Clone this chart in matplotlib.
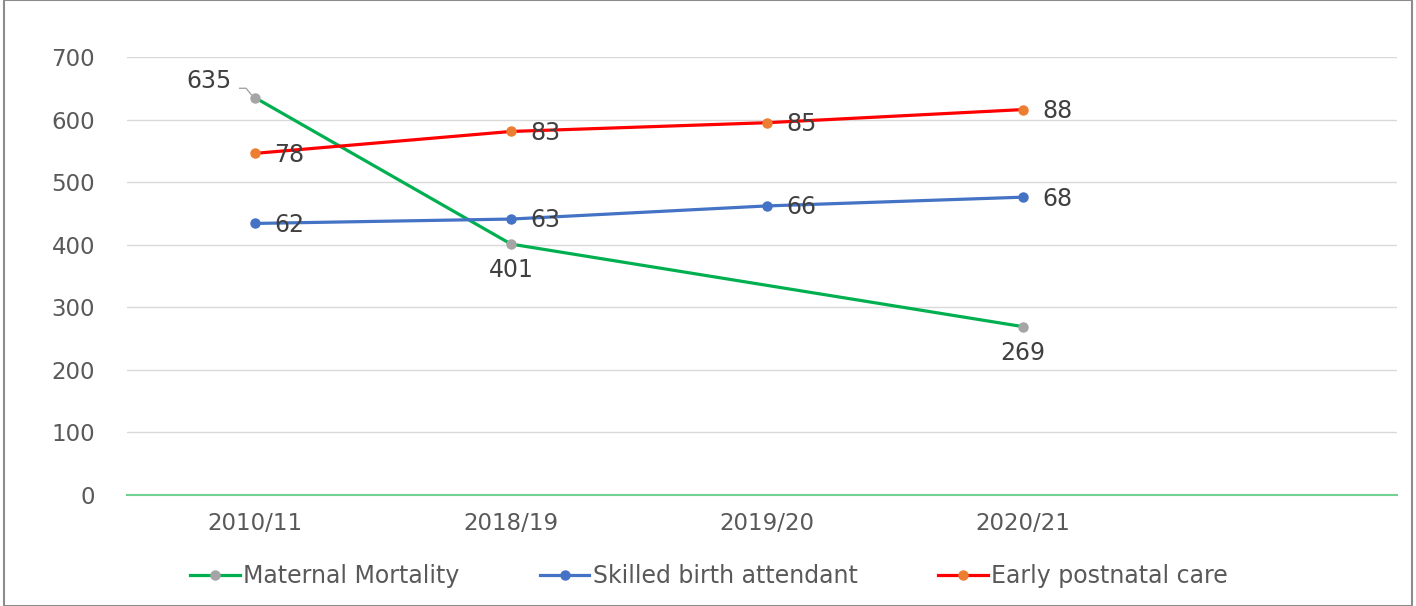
import matplotlib.pyplot as plt
from matplotlib.patches import Rectangle
from matplotlib.lines import Line2D

categories = ["2010/11", "2018/19", "2019/20", "2020/21"]
mm_x = ["2010/11", "2018/19", "2020/21"]
maternal_mortality = [635, 401, 269]
skilled_birth = [62, 63, 66, 68]
postnatal_care = [78, 83, 85, 88]

plt.rcParams['font.family'] = ['DejaVu Sans']

fig = plt.figure(figsize=(14.16, 6.06), dpi=100)
ax = fig.add_axes([127/1416, 111/606, 1270/1416, 438/606])
ax2 = ax.twinx()

xpos = {c: i for i, c in enumerate(categories)}
xs = list(range(len(categories)))
mx = [xpos[c] for c in mm_x]

LW, MS = 2.3, 6.5
ax.plot(mx, maternal_mortality, color='#00b050', lw=LW, marker='o', ms=MS,
        mfc='#a5a5a5', mec='#a5a5a5', zorder=3)
ax2.plot(xs, skilled_birth, color='#4472c4', lw=LW, marker='o', ms=MS,
         mfc='#4472c4', mec='#4472c4', zorder=3)
ax2.plot(xs, postnatal_care, color='#ff0000', lw=LW, marker='o', ms=MS,
         mfc='#ed7d31', mec='#ed7d31', zorder=3)

ax.set_xlim(-0.5, 4.46)
ax.set_ylim(0, 700)
ax2.set_ylim(0, 100)
ax2.set_yticks([])
for a in (ax, ax2):
    for s in a.spines.values():
        s.set_visible(False)
ax.spines['bottom'].set_visible(True)
ax.spines['bottom'].set_color('#74d194')
ax.spines['bottom'].set_linewidth(1.5)

ax.set_yticks(range(0, 701, 100))
ax.set_xticks(xs)
ax.set_xticklabels(categories)
ax.tick_params(axis='both', length=0, labelsize=16.5, colors='#595959')
ax.tick_params(axis='y', pad=23)
ax.tick_params(axis='x', pad=12)
ax.grid(axis='y', color='#d9d9d9', lw=1)
ax.set_axisbelow(True)

lab = dict(fontsize=17, color='#404040')
ax.annotate(str(maternal_mortality[0]), xy=(mx[0], maternal_mortality[0]),
            xytext=(-17, 12), textcoords='offset points', ha='right', va='center', **lab)
ax.plot([-0.06, -0.035, -0.015], [650, 650, 640], color='#a5a5a5', lw=1)
for x, v in zip(mx[1:], maternal_mortality[1:]):
    ax.annotate(str(v), xy=(x, v), xytext=(0, -19), textcoords='offset points',
                ha='center', va='center', **lab)
for x, v in zip(xs, skilled_birth):
    ax2.annotate(str(v), xy=(x, v), xytext=(14, -1), textcoords='offset points',
                 ha='left', va='center', **lab)
for x, v in zip(xs, postnatal_care):
    ax2.annotate(str(v), xy=(x, v), xytext=(14, -1), textcoords='offset points',
                 ha='left', va='center', **lab)

handles = [
    Line2D([], [], color='#00b050', lw=LW, marker='o', ms=MS, mfc='#a5a5a5', mec='#a5a5a5'),
    Line2D([], [], color='#4472c4', lw=LW, marker='o', ms=MS, mfc='#4472c4', mec='#4472c4'),
    Line2D([], [], color='#ff0000', lw=LW, marker='o', ms=MS, mfc='#ed7d31', mec='#ed7d31'),
]
fig.legend(handles, ['Maternal Mortality', 'Skilled birth attendant', 'Early postnatal care'],
           loc='center', bbox_to_anchor=(709/1416, 1 - 576/606), ncol=3, frameon=False,
           fontsize=17, labelcolor='#595959', handlelength=2.1, handletextpad=0.15,
           columnspacing=3.4)

fig.add_artist(Rectangle((4/1416, 0), 1408/1416, 1.0, transform=fig.transFigure,
                         fill=False, ec='#8c8c8c', lw=1.5))

fig.savefig('out.png', dpi=100)
